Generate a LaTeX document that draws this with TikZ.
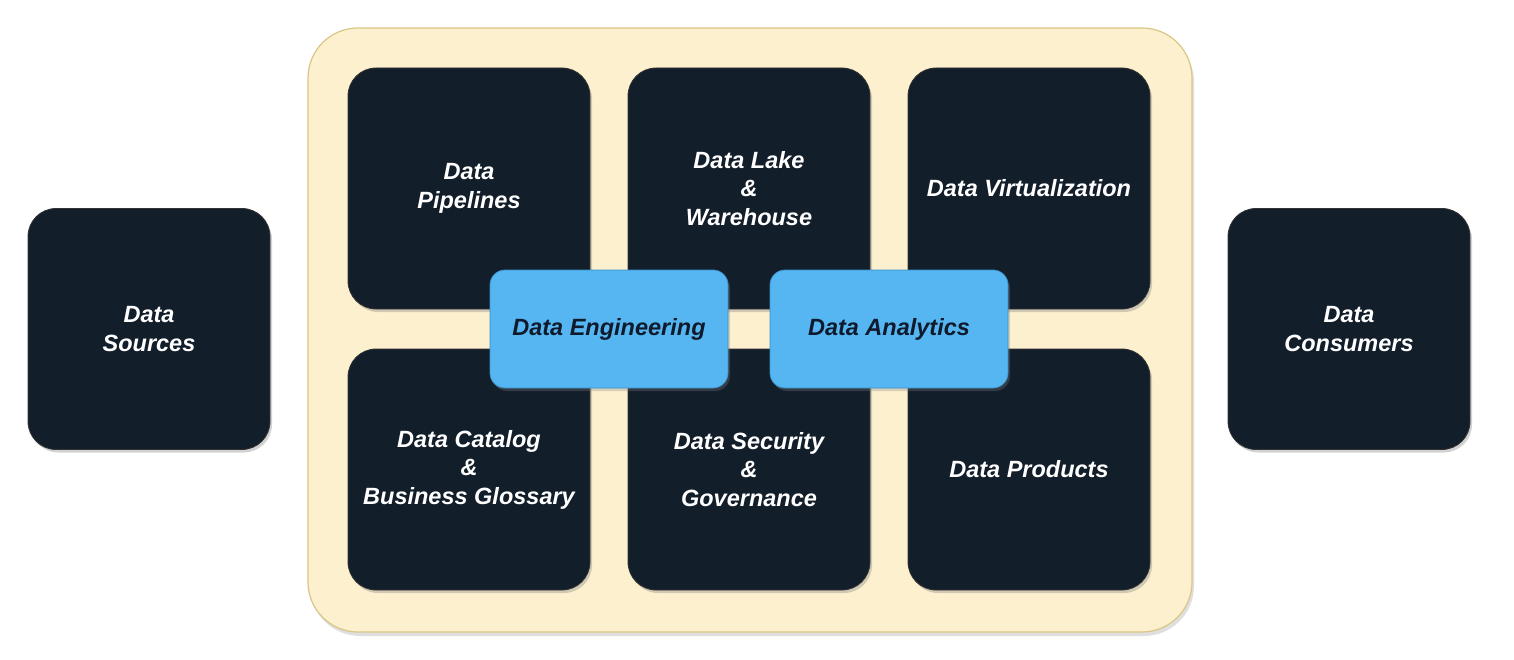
\documentclass[tikz,border=0pt]{standalone}
\usepackage{fontspec}
\setmainfont{Liberation Sans}
\usetikzlibrary{shadows}
\definecolor{cream}{HTML}{FCF0CF}
\definecolor{creamedge}{HTML}{D9C684}
\definecolor{navy}{HTML}{131E2B}
\definecolor{skyb}{HTML}{56B6F2}
\definecolor{skyedge}{HTML}{3C8FC8}
\definecolor{darktext}{HTML}{0F1A2C}
\begin{document}
\begin{tikzpicture}[x=1pt,y=-1pt,
  darkbox/.style={draw=black!80, line width=0.8pt, fill=navy, rounded corners=28pt,
    minimum width=242pt, minimum height=241pt, inner sep=0pt,
    text=white, align=center, font=\fontsize{23.5}{28.5}\selectfont\bfseries\itshape,
    drop shadow={opacity=0.35, shadow xshift=2pt, shadow yshift=-3pt}},
  bluebox/.style={draw=skyedge, line width=0.8pt, fill=skyb, rounded corners=15pt,
    minimum width=238pt, minimum height=118pt, inner sep=0pt,
    text=darktext, align=center, font=\fontsize{23.5}{28.5}\selectfont\bfseries\itshape,
    drop shadow={opacity=0.3, shadow xshift=2pt, shadow yshift=-3pt}},
  container/.style={draw=creamedge, line width=1.2pt, fill=cream, rounded corners=50pt,
    minimum width=884pt, minimum height=604pt, inner sep=0pt,
    drop shadow={opacity=0.25, shadow xshift=2pt, shadow yshift=-4pt}}
]
\useasboundingbox[fill=white] (0,0) rectangle (1514,660);
\node[container] (frame) at (750,330) {};
\node[darkbox] (src) at (149,329) {Data\\Sources};
\node[darkbox] (cons) at (1349,329) {Data\\Consumers};
\node[darkbox] (pipe) at (469,188.5) {Data\\Pipelines};
\node[darkbox] (lake) at (749,188.5) {Data Lake\\\&\\Warehouse};
\node[darkbox] (virt) at (1029,188.5) {Data Virtualization};
\node[darkbox] (cat) at (469,469.5) {Data Catalog\\\&\\Business Glossary};
\node[darkbox] (sec) at (749,469.5) {Data Security\\\&\\Governance};
\node[darkbox] (prod) at (1029,469.5) {Data Products};
\node[bluebox] (eng) at (609,329) {Data Engineering};
\node[bluebox] (ana) at (889,329) {Data Analytics};
\end{tikzpicture}
\end{document}
